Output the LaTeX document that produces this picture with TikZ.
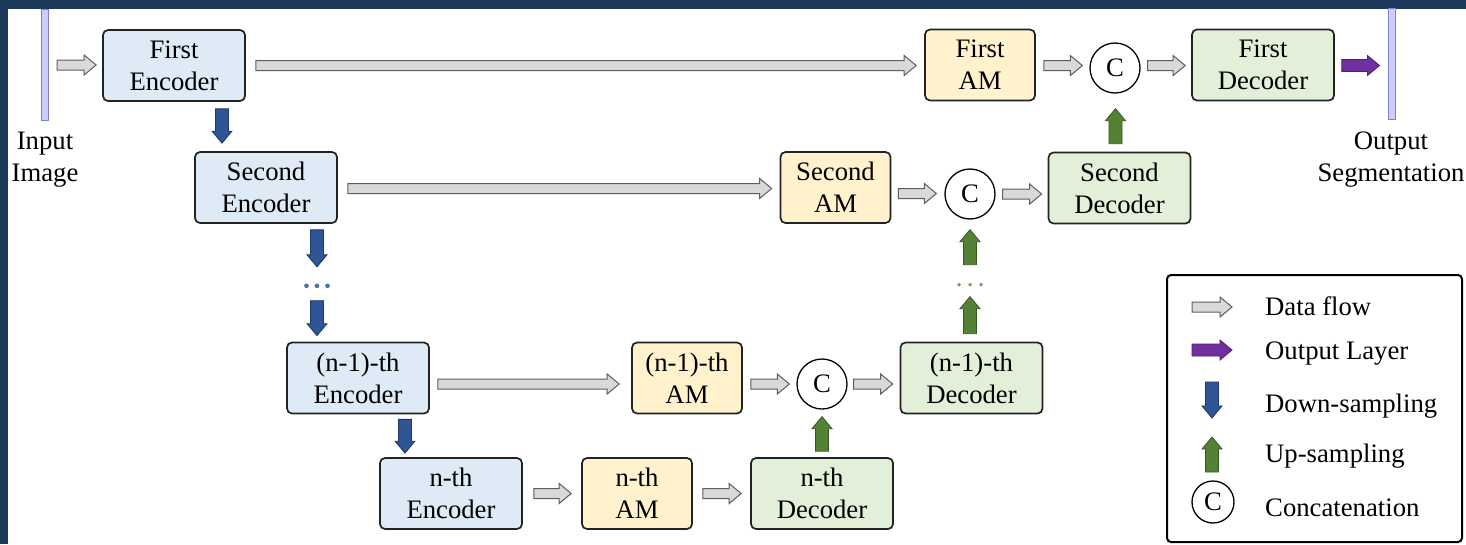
\documentclass[tikz,border=0pt]{standalone}
\usepackage{fontspec}
\setmainfont{Liberation Serif}
\usetikzlibrary{calc}

\definecolor{navy}{HTML}{1B3A5C}
\definecolor{encfill}{HTML}{DEEBF7}
\definecolor{amfill}{HTML}{FFF2CC}
\definecolor{decfill}{HTML}{E2F0D9}
\definecolor{boxline}{HTML}{222222}
\definecolor{flowfill}{HTML}{D9D9D9}
\definecolor{flowline}{HTML}{5E5E5E}
\definecolor{downfill}{HTML}{2F5597}
\definecolor{downline}{HTML}{203864}
\definecolor{upfill}{HTML}{548235}
\definecolor{upline}{HTML}{385723}
\definecolor{outfill}{HTML}{7030A0}
\definecolor{outline}{HTML}{4E2070}
\definecolor{barfill}{HTML}{CCCCFF}
\definecolor{barline}{HTML}{7F7FD0}

\newcommand\txtfont{\fontsize{26.7}{32}\selectfont}

% horizontal block arrow from #3 to #4 (head at #4); #1 = half shaft width
\newcommand\harrow[4][5pt]{%
  \draw[#2] let \p1=(#3), \p2=(#4) in
    (\x1,\y1+#1) -- (\x2-12pt,\y1+#1) -- (\x2-12pt,\y1+10pt) -- (\x2,\y1)
    -- (\x2-12pt,\y1-10pt) -- (\x2-12pt,\y1-#1) -- (\x1,\y1-#1) -- cycle;}
% vertical block arrow pointing down, from #3 to #4
\newcommand\darrow[4][6.5pt]{%
  \draw[#2] let \p1=(#3), \p2=(#4) in
    (\x1-#1,\y1) -- (\x1-#1,\y2+12pt) -- (\x1-10pt,\y2+12pt) -- (\x1,\y2)
    -- (\x1+10pt,\y2+12pt) -- (\x1+#1,\y2+12pt) -- (\x1+#1,\y1) -- cycle;}
% vertical block arrow pointing up, from #3 to #4
\newcommand\uarrow[4][6.5pt]{%
  \draw[#2] let \p1=(#3), \p2=(#4) in
    (\x1-#1,\y1) -- (\x1-#1,\y2-12pt) -- (\x1-10pt,\y2-12pt) -- (\x1,\y2)
    -- (\x1+10pt,\y2-12pt) -- (\x1+#1,\y2-12pt) -- (\x1+#1,\y1) -- cycle;}

\tikzset{
  blk/.style={draw=boxline, line width=1.7pt, rounded corners=5pt,
    minimum width=142pt, minimum height=71pt, inner sep=0pt,
    align=center, font=\txtfont},
  enc/.style={blk, fill=encfill},
  am/.style={blk, fill=amfill, minimum width=110pt},
  dec/.style={blk, fill=decfill},
  cat/.style={circle, draw=black, line width=1.3pt, fill=white,
    minimum size=50pt, inner sep=0pt, font=\txtfont},
  bar/.style={draw=barline, fill=barfill, line width=1pt,
    minimum width=7pt, minimum height=111pt, inner sep=0pt},
  flow/.style={fill=flowfill, draw=flowline, line width=1pt},
  down/.style={fill=downfill, draw=downline, line width=0.8pt},
  up/.style={fill=upfill, draw=upline, line width=0.8pt},
  outl/.style={fill=outfill, draw=outline, line width=0.8pt},
  lbl/.style={font=\txtfont, align=center, inner sep=0pt},
  leg/.style={font=\txtfont, anchor=base west, inner sep=0pt},
}

\begin{document}
\begin{tikzpicture}[x=1pt, y=-1pt]
\useasboundingbox (0,0) rectangle (1466,544);
% slide background and white canvas
\fill[navy] (0,0) rectangle (1466,544);
\fill[white] (8,9) rectangle (1466,544);

% input / output planes
\node[bar] (in) at (45,64.5) {};
\node[bar] (out) at (1391.5,63.5) {};
\node[lbl] (inlbl) at (45,160) {Input\\Image};
\node[lbl] (outlbl) at (1391,160) {Output\\Segmentation};

% encoders
\node[enc] (e1) at (174,65.5) {First\\Encoder};
\node[enc] (e2) at (266,187.5) {Second\\Encoder};
\node[enc] (e3) at (358,378) {(n-1)-th\\Encoder};
\node[enc] (e4) at (451,493.5) {n-th\\Encoder};
% attention modules
\node[am] (a1) at (980,65) {First\\AM};
\node[am] (a2) at (835.5,187.5) {Second\\AM};
\node[am] (a3) at (687,378) {(n-1)-th\\AM};
\node[am] (a4) at (637,493.5) {n-th\\AM};
% decoders
\node[dec] (d1) at (1263,65) {First\\Decoder};
\node[dec] (d2) at (1119.5,188) {Second\\Decoder};
\node[dec] (d3) at (971.5,378) {(n-1)-th\\Decoder};
\node[dec] (d4) at (822,493.5) {n-th\\Decoder};
% concatenations
\node[cat] (c1) at (1115,68) {C};
\node[cat] (c2) at (970,194) {C};
\node[cat] (c3) at (822,384) {C};

% data flow, row 1
\harrow{flow}{$(in.east)+(8,0.5)$}{$(e1.west)+(-6,0)$}
\harrow{flow}{$(e1.east)+(10,0)$}{$(a1.west)+(-8,0)$}
\harrow{flow}{$(a1.east)+(8,0.5)$}{$(c1.west)+(-7,0)$}
\harrow{flow}{$(c1.east)+(7,-2.5)$}{$(d1.west)+(-6,0)$}
\harrow[6pt]{outl}{$(d1.east)+(7,0.5)$}{$(out.west)+(-8,0)$}
% row 2
\harrow{flow}{$(e2.east)+(10,1)$}{$(a2.west)+(-8,0)$}
\harrow{flow}{$(a2.east)+(7,6)$}{$(c2.west)+(-8,0)$}
\harrow{flow}{$(c2.east)+(7,0)$}{$(d2.west)+(-6,0)$}
% row 3
\harrow{flow}{$(e3.east)+(8,6)$}{$(a3.west)+(-12,0)$}
\harrow{flow}{$(a3.east)+(8,6)$}{$(c3.west)+(-7,0)$}
\harrow{flow}{$(c3.east)+(6,0)$}{$(d3.west)+(-7,0)$}
% row 4
\harrow{flow}{$(e4.east)+(11,0)$}{$(a4.west)+(-10,0)$}
\harrow{flow}{$(a4.east)+(10,0)$}{$(d4.west)+(-9,0)$}

% down-sampling path
\darrow{down}{$(e1.south)+(48,7)$}{$(e2.north)+(0,-8)$}
\darrow{down}{$(e2.south)+(51,6)$}{$(e2.south)+(51,43)$}
\darrow{down}{$(e3.north)+(-41,-41)$}{$(e3.north)+(-41,-6)$}
\darrow{down}{$(e3.south)+(47,5)$}{$(e4.north)+(0,-4)$}
\foreach \dx in {-10.5,0,10.5}
  \fill[downfill!85!white] ($(e2.south)+(51,62)+(\dx,0)$) circle (2.3);

% up-sampling path
\uarrow{up}{$(d4.north)+(0,-6)$}{$(c3.south)+(0,7)$}
\uarrow{up}{$(d3.north)+(-1.5,-8)$}{$(d3.north)+(-1.5,-45)$}
\uarrow{up}{$(c2.south)+(0,45)$}{$(c2.south)+(0,10)$}
\uarrow{up}{$(d2.north)+(-4,-8)$}{$(c1.south)+(0,15)$}
\foreach \dx in {-11,0,11}
  \fill[upfill!80!white] ($(c2.south)+(0,65)+(\dx,0)$) circle (1.9);

% legend
\draw[black, line width=2pt, rounded corners=4pt] (1167,275) rectangle (1462,542);
\coordinate (l1a) at (1192,307); \coordinate (l1b) at (1232,307);
\harrow{flow}{l1a}{l1b}
\node[leg] (t1) at (1265,315) {Data flow};
\coordinate (l2a) at (1192,350); \coordinate (l2b) at (1232,350);
\harrow[6pt]{outl}{l2a}{l2b}
\node[leg] (t2) at (1265,359.5) {Output Layer};
\coordinate (l3a) at (1212,382); \coordinate (l3b) at (1212,418);
\darrow{down}{l3a}{l3b}
\node[leg] (t3) at (1265,412) {Down-sampling};
\coordinate (l4a) at (1212,472); \coordinate (l4b) at (1212,437);
\uarrow{up}{l4a}{l4b}
\node[leg] (t4) at (1265,462) {Up-sampling};
\node[cat, minimum size=42pt] (lc) at (1213,502) {C};
\node[leg] (t5) at (1265,516) {Concatenation};
\end{tikzpicture}
\end{document}
